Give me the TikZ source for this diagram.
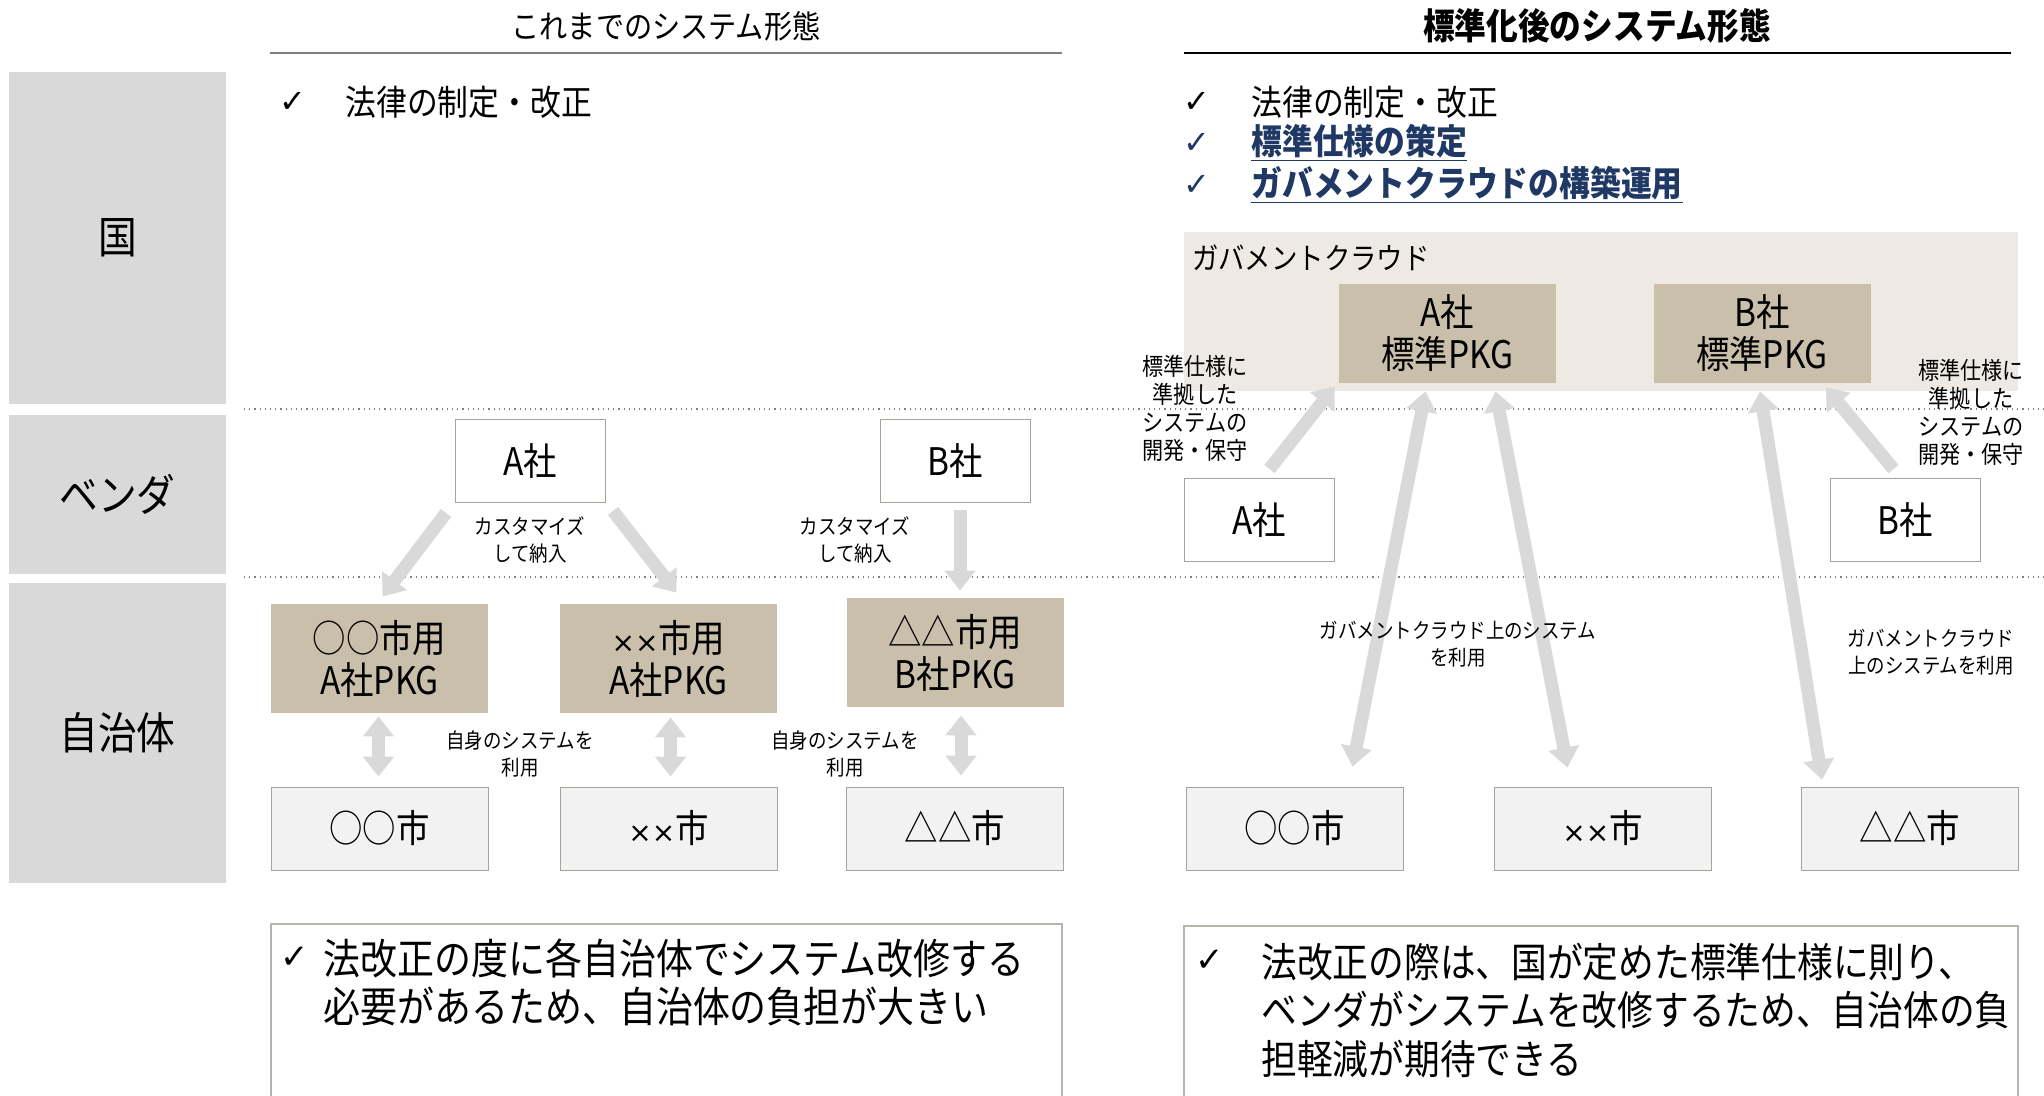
\documentclass[tikz,border=0pt]{standalone}
\usepackage{fontspec}
\usetikzlibrary{arrows.meta, positioning, calc}
\newfontfamily\jpfont[FakeStretch=0.88]{Noto Sans CJK JP}
\newfontfamily\symfont{DejaVu Sans}
\definecolor{rowgray}{HTML}{D9D9D9}
\definecolor{pkgtan}{HTML}{C9BFAB}
\definecolor{cloudbg}{HTML}{EEEAE3}
\definecolor{citygray}{HTML}{F2F2F2}
\definecolor{edgegray}{HTML}{A8A29A}
\definecolor{arrowgray}{HTML}{D9D9D9}
\definecolor{navy}{HTML}{1F3864}
\newcommand{\chk}{{\symfont ✓}}
\newcommand{\xx}{{\symfont\fontsize{14}{14}\selectfont ××}}
\newcommand{\fsRow}{\fontsize{22}{26}\selectfont}
\newcommand{\fsHead}{\fontsize{16}{19}\selectfont}
\newcommand{\fsHeadB}{\fontsize{18}{21}\selectfont}
\newcommand{\fsBullet}{\fontsize{17.5}{21}\selectfont}
\newcommand{\fsBox}{\fontsize{19}{21}\selectfont}
\newcommand{\fsNote}{\fontsize{10.5}{13.5}\selectfont}
\newcommand{\fsSide}{\fontsize{12}{14}\selectfont}
\newcommand{\fsCloud}{\fontsize{15}{18}\selectfont}
\newcommand{\fsSum}{\fontsize{21}{24}\selectfont}
\tikzstyle{rowlabel} = [fill=rowgray, inner sep=0, minimum width=108.5pt, font=\jpfont\fsRow]
\tikzstyle{heading} = [inner sep=0, font=\jpfont\fsHead]
\tikzstyle{bullet} = [anchor=west, inner sep=0, font=\jpfont\fsBullet]
\tikzstyle{chkmark} = [inner sep=0, font=\fontsize{16}{18}\selectfont]
\tikzstyle{vendorbox} = [draw=edgegray, fill=white, inner sep=0, minimum width=75pt, minimum height=41.5pt, font=\jpfont\fsBox]
\tikzstyle{pkgbox} = [fill=pkgtan, inner sep=0, minimum width=108.5pt, minimum height=54.5pt, align=center, font=\jpfont\fsBox]
\tikzstyle{citybox} = [draw=edgegray, fill=citygray, inner sep=0, minimum width=108.5pt, minimum height=41.5pt, font=\jpfont\fsBox]
\tikzstyle{cloudbox} = [fill=cloudbg, inner sep=0, minimum width=417pt, minimum height=79.5pt]
\tikzstyle{note} = [inner sep=0, align=center, font=\jpfont\fsNote]
\tikzstyle{summary} = [anchor=base west, inner sep=0, align=left, font=\jpfont\fsSum]
\tikzstyle{sepline} = [gray, dotted, line width=0.6pt]
\tikzstyle{frame} = [edgegray!80, line width=0.6pt]
\tikzstyle{bigarrow} = [draw=arrowgray, line width=6.5pt, -{Triangle[length=10pt, width=15pt]}]
\tikzstyle{dblarrow} = [draw=arrowgray, line width=6.5pt, {Triangle[length=10pt, width=15pt]}-{Triangle[length=10pt, width=15pt]}]

\begin{document}
\begin{tikzpicture}[x=0.5pt, y=-0.5pt, font=\jpfont]
  \useasboundingbox (0,0) rectangle (2044,1096);
  % row labels
  \node[rowlabel, minimum height=166pt] (kuni) at (117.5,238) {国};
  \node[rowlabel, minimum height=79.5pt] (vendor) at (117.5,494.5) {ベンダ};
  \node[rowlabel, minimum height=150pt] (jichitai) at (117.5,733) {自治体};
  \draw[sepline] (244,409) -- (2044,409);
  \draw[sepline] (244,577) -- (2044,577);

  % headings
  \node[heading] (oldhead) at (666,26) {これまでのシステム形態};
  \node[heading, font=\jpfont\bfseries\fsHeadB] (newhead) at (1597,26) {標準化後のシステム形態};
  \draw[gray, line width=1pt] (270,53) -- (1062,53);
  \draw[black, line width=0.8pt] (1184,53) -- (2011,53);

  % country tasks
  \node[chkmark] (chkO1) at (293,102) {\chk};
  \node[bullet] (lawO) at (345,102) {法律の制定・改正};
  \node[chkmark] (chkN1) at (1197,102) {\chk};
  \node[bullet] (lawN) at (1251,102) {法律の制定・改正};
  \node[chkmark, navy] (chkN2) at (1197,143) {\chk};
  \node[bullet, navy, font=\jpfont\bfseries\fsBullet] (specN) at (1251,143) {\underline{標準仕様の策定}};
  \node[chkmark, navy] (chkN3) at (1197,185) {\chk};
  \node[bullet, navy, font=\jpfont\bfseries\fsBullet] (gcN) at (1251,185) {\underline{ガバメントクラウドの構築運用}};

  % left: old system
  \node[vendorbox] (aL) at (530,461) {A社};
  \node[vendorbox, right of=aL, node distance=212.5pt] (bL) {B社};
  \node[pkgbox] (pkgO) at (379.5,658.5) {○○市用\\A社PKG};
  \node[pkgbox, right of=pkgO, node distance=144.5pt] (pkgX) {\xx 市用\\A社PKG};
  \node[pkgbox] (pkgT) at (955,652.5) {△△市用\\B社PKG};
  \node[citybox, below of=pkgO, node distance=85pt] (cityO) {○○市};
  \node[citybox, below of=pkgX, node distance=85pt] (cityX) {\xx 市};
  \node[citybox, below of=pkgT, node distance=88pt] (cityT) {△△市};
  \draw[bigarrow] ($(aL.south)+(-84,10)$) -- ($(pkgO.north)+(3,-7)$);
  \draw[bigarrow] ($(aL.south)+(83,8)$) -- ($(pkgX.north)+(8,-11)$);
  \draw[bigarrow] ($(bL.south)+(5,7)$) -- ($(pkgT.north)+(5,-7)$);
  \draw[dblarrow] ($(pkgO.south)+(-1,3)$) -- ($(cityO.north)+(-1,-10)$);
  \draw[dblarrow] ($(pkgX.south)+(2,4)$) -- ($(cityX.north)+(2,-10)$);
  \draw[dblarrow] ($(pkgT.south)+(6,8)$) -- ($(cityT.north)+(6,-11)$);
  \node[note] (custA) at (530,540) {カスタマイズ\\して納入};
  \node[note] (custB) at (855,540) {カスタマイズ\\して納入};
  \node[note] (useO) at (520,754) {自身のシステムを\\利用};
  \node[note] (useT) at (845,754) {自身のシステムを\\利用};

  % right: standardised system
  \node[cloudbox] (cloud) at (1601,311.5) {};
  \node[anchor=west, inner sep=0, font=\jpfont\fsCloud] (cloudtitle) at ($(cloud.north west)+(8,26)$) {ガバメントクラウド};
  \node[pkgbox, minimum height=49.5pt] (stdA) at (1447.5,333.5) {A社\\標準PKG};
  \node[pkgbox, minimum height=49.5pt, right of=stdA, node distance=157.25pt] (stdB) {B社\\標準PKG};
  \node[vendorbox] (aR) at (1259.5,520) {A社};
  \node[vendorbox, right of=aR, node distance=323pt] (bR) {B社};
  \node[citybox] (cityO2) at (1294.5,828.5) {○○市};
  \node[citybox, right of=cityO2, node distance=154pt] (cityX2) {\xx 市};
  \node[citybox, right of=cityX2, node distance=153.75pt] (cityT2) {△△市};
  \draw[bigarrow] ($(aR.north)+(10,-9)$) -- ($(stdA.south west)+(-4,3)$);
  \draw[bigarrow] ($(bR.north)+(-12,-9)$) -- ($(stdB.south east)+(-45,4)$);
  \draw[dblarrow] ($(stdA.south)+(-22,8)$) -- ($(cityO2.north)+(58,-20)$);
  \draw[dblarrow] ($(stdA.south)+(48,8)$) -- ($(cityX2.north)+(-35,-19)$);
  \draw[dblarrow] ($(stdB.south)+(-2,8)$) -- ($(cityT2.north)+(-88,-7)$);
  \node[note, font=\jpfont\fsSide] (devA) at (1195,408) {標準仕様に\\準拠した\\システムの\\開発・保守};
  \node[note, font=\jpfont\fsSide] (devB) at (1971,412) {標準仕様に\\準拠した\\システムの\\開発・保守};
  \node[note] (useGC) at (1458,644) {ガバメントクラウド上のシステム\\を利用};
  \node[note] (useGC2) at (1931,652) {ガバメントクラウド\\上のシステムを利用};

  % summaries (base = last line)
  \draw[frame] (271,1096) |- (1062,924) -- (1062,1096);
  \node[chkmark, font=\fontsize{17}{19}\selectfont] (chkSumO) at (295,958) {\chk};
  \node[summary] (sumO) at (323,1022) {法改正の度に各自治体でシステム改修する\\必要があるため、自治体の負担が大きい};
  \draw[frame] (1184,1096) |- (2018,926) -- (2018,1096);
  \node[chkmark, font=\fontsize{17}{19}\selectfont] (chkSumN) at (1210,961) {\chk};
  \node[summary, font=\jpfont\fontsize{20.3}{24.2}\selectfont] (sumN) at (1261,1074) {法改正の際は、国が定めた標準仕様に則り、\\ベンダがシステムを改修するため、自治体の負\\担軽減が期待できる};
\end{tikzpicture}
\end{document}
